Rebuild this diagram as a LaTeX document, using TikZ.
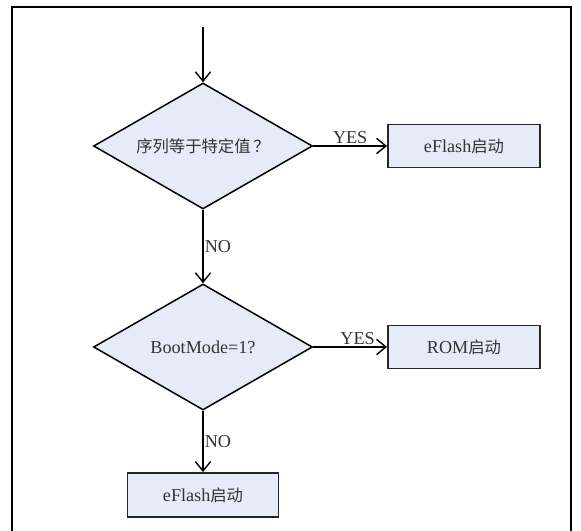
\documentclass[tikz,border=0pt]{standalone}
\usepackage{fontspec}
\setmainfont{Liberation Serif}
\newfontfamily\cjk{Noto Sans CJK SC}[Scale=0.9]
\usetikzlibrary{shapes.geometric,arrows.meta}
\definecolor{boxfill}{RGB}{230,236,247}
\begin{document}
\begin{tikzpicture}[
    font=\fontsize{15.5}{18}\selectfont,
    decision/.style={draw, line width=1.3pt, fill=boxfill, diamond, aspect=1.74, inner sep=0pt, minimum width=6.57cm, minimum height=3.78cm, text=black!80},
    bootbox/.style={draw, line width=1.6pt, draw=black!85, fill=boxfill, minimum width=4.56cm, minimum height=1.29cm, text=black!80},
    arrow/.style={-{Straight Barb[length=8pt, width=13pt]}, line width=1.2pt},
    lbl/.style={inner sep=1pt, text=black!80}
]
    \useasboundingbox (0,0) rectangle (17.43,-15.93);
    % Frame
    \draw[line width=1.1pt] (0.36,-16.5) |- (17.13,-0.21) -- (17.13,-16.5);

    % Decisions
    \coordinate (start) at (6.09,-0.81);
    \node[decision] (seq) at (6.09,-4.38) {{\cjk 序列等于特定值\,？}};
    \node[decision] (mode) at (6.09,-10.41) {BootMode=1?};

    % Boot targets
    \node[bootbox] (flashA) at (13.92,-4.38) {eFlash{\cjk 启动}};
    \node[bootbox] (rom) at (13.92,-10.41) {ROM{\cjk 启动}};
    \node[bootbox, minimum width=4.53cm, minimum height=1.32cm] (flashB) at (6.09,-14.85) {eFlash{\cjk 启动}};

    % Arrows
    \draw[arrow] (start) -- (seq);
    \draw[arrow] (seq) -- node[lbl, above] {YES} (flashA);
    \draw[arrow] (seq) -- node[lbl, right] {NO} (mode);
    \draw[arrow] (mode) -- node[lbl, above, pos=0.6] {YES} (rom);
    \draw[arrow] (mode) -- node[lbl, right] {NO} (flashB);
\end{tikzpicture}
\end{document}
